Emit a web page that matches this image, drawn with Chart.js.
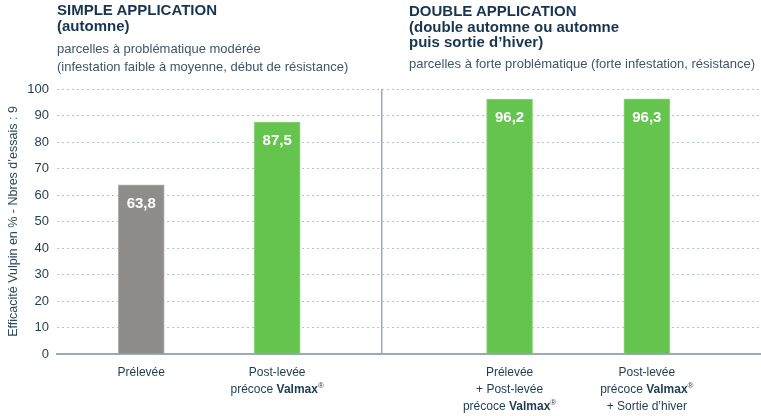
<!DOCTYPE html>
<html lang="fr">
<head>
  <meta charset="UTF-8">
  <title>Efficacité Vulpin</title>
  <script src="https://cdn.jsdelivr.net/npm/chart.js"></script>
  <style>
    body {
      margin: 0;
      background: #fff;
      font-family: "Liberation Sans", Arial, sans-serif;
    }
    .cadre {
      position: relative;
      width: 761px;
      height: 416px;
    }
    .bloc {
      position: absolute;
      white-space: nowrap;
    }
    .titre {
      color: #173550;
      font-weight: bold;
      font-size: 15px;
      line-height: 16px;
    }
    .sous {
      color: #3e5668;
      font-size: 13px;
      line-height: 18px;
    }
    canvas {
      position: absolute;
      left: 0;
      top: 0;
    }
  </style>
</head>
<body>

  <div class="cadre">
    <canvas id="graphique" width="761" height="416"></canvas>

    <!-- en-têtes des deux groupes -->
    <div class="bloc titre" style="left:57px; top:2px;">SIMPLE APPLICATION<br>(automne)</div>
    <div class="bloc sous" style="left:57px; top:40px;">parcelles à problématique modérée<br>(infestation faible à moyenne, début de résistance)</div>

    <div class="bloc titre" style="left:409px; top:3px; line-height:15.5px;">DOUBLE APPLICATION<br>(double automne ou automne<br>puis sortie d’hiver)</div>
    <div class="bloc sous" style="left:409px; top:55px;">parcelles à forte problématique (forte infestation, résistance)</div>
  </div>

  <script>
    // Données
    const categories = [
      ['Prélevée'],
      ['Post-levée', 'précoce Valmax®'],
      ['Prélevée', '+ Post-levée', 'précoce Valmax®'],
      ['Post-levée', 'précoce Valmax®', '+ Sortie d’hiver']
    ];
    const efficacite = [63.8, 87.5, 96.2, 96.3];
    const yMin = 0, yMax = 100, yPas = 10;
    const titreAxeY = 'Efficacité Vulpin en % - Nbres d’essais : 9';

    // Mise en page (positions des barres sur l'axe x, séparateur des groupes)
    const emplacements = [0.62, 1.62, 3.33, 4.34];
    const separateur = 2.39;
    const couleurs = ['#8e8d8b', '#64c44e', '#64c44e', '#64c44e'];
    const bordures = ['#b3b2b0', '#8fd67e', '#8fd67e', '#8fd67e'];
    const police = '"Liberation Sans", Arial, sans-serif';

    // ligne de libellé avec "Valmax" en gras et ® en exposant
    function dessinerLigne(ctx, texte, cx, y) {
      const morceaux = texte.split(/(Valmax|®)/).filter(s => s);
      const polices = morceaux.map(m =>
        m === 'Valmax' ? 'bold 12px ' + police : (m === '®' ? '8px ' + police : '12px ' + police));
      let largeur = 0;
      morceaux.forEach((m, k) => { ctx.font = polices[k]; largeur += ctx.measureText(m).width; });
      let x = cx - largeur / 2;
      ctx.textAlign = 'left';
      morceaux.forEach((m, k) => {
        ctx.font = polices[k];
        ctx.fillText(m, x, m === '®' ? y - 4 : y);
        x += ctx.measureText(m).width;
      });
    }

    const etiquettes = {
      id: 'etiquettes',
      afterDraw(chart) {
        const ctx = chart.ctx;
        const meta = chart.getDatasetMeta(0);
        const xs = chart.scales.x;
        ctx.save();
        ctx.textBaseline = 'middle';

        // valeurs dans les barres
        ctx.fillStyle = '#ffffff';
        ctx.textAlign = 'center';
        ctx.font = 'bold 15px ' + police;
        meta.data.forEach((barre, i) => {
          ctx.fillText(efficacite[i].toFixed(1).replace('.', ','), barre.x, barre.y + 19);
        });

        // libellés sous l'axe
        ctx.fillStyle = '#1d3b52';
        const bas = chart.chartArea.bottom;
        categories.forEach((lignes, i) => {
          const cx = xs.getPixelForValue(emplacements[i]);
          lignes.forEach((ligne, j) => dessinerLigne(ctx, ligne, cx, bas + 19 + j * 17));
        });
        ctx.restore();
      }
    };

    new Chart(document.getElementById('graphique'), {
      type: 'bar',
      data: {
        datasets: [{
          data: efficacite.map((v, i) => ({ x: emplacements[i], y: v })),
          backgroundColor: couleurs,
          borderColor: bordures,
          borderWidth: 1,
          barThickness: 46
        }]
      },
      options: {
        responsive: false,
        animation: false,
        layout: { padding: { top: 89, bottom: 62, left: 0, right: 0 } },
        plugins: {
          legend: { display: false },
          tooltip: { enabled: false }
        },
        scales: {
          x: {
            type: 'linear',
            min: 0,
            max: 5.18,
            offset: false,
            z: 1,
            afterBuildTicks: axe => { axe.ticks = [{ value: separateur }]; },
            afterFit: axe => { axe.height = 0; },
            ticks: { display: false },
            grid: { color: '#9aabb8', lineWidth: 1.5, drawTicks: false, offset: false },
            border: { display: true, color: '#98aab8', width: 2 }
          },
          y: {
            min: yMin,
            max: yMax,
            afterFit: axe => { axe.width = 57; },
            ticks: {
              stepSize: yPas,
              padding: 8,
              color: '#1d3b52',
              font: { family: police, size: 13 }
            },
            grid: {
              color: c => c.tick.value === 0 ? 'rgba(0,0,0,0)' : '#b5c2cc',
              lineWidth: 1,
              drawTicks: false
            },
            border: { display: false, dash: [2, 3] },
            title: {
              display: true,
              text: titreAxeY,
              color: '#2b4a60',
              font: { family: police, size: 12.5 },
              padding: { top: 6, bottom: 0 }
            }
          }
        }
      },
      plugins: [etiquettes]
    });
  </script>

</body>
</html>
